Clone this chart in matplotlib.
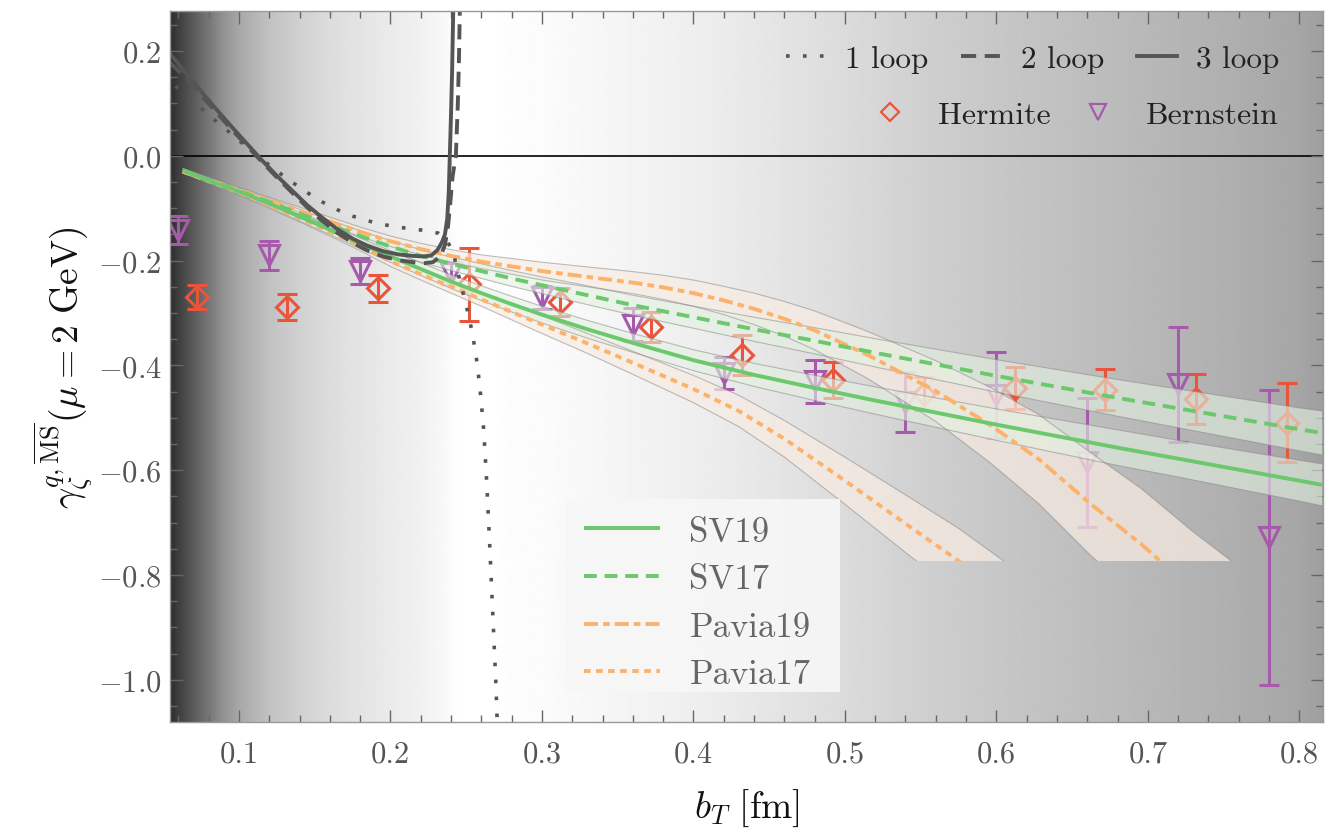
import numpy as np
import matplotlib
matplotlib.use('Agg')
import matplotlib.pyplot as plt
from matplotlib.lines import Line2D
from matplotlib.patches import Rectangle

plt.rcParams['font.family'] = 'serif'
plt.rcParams['font.serif'] = ['cmr10']
plt.rcParams['mathtext.fontset'] = 'cm'
plt.rcParams['axes.formatter.use_mathtext'] = True

# ---------------- data ----------------
bern_x = [0.06, 0.12, 0.18, 0.24, 0.30, 0.36, 0.42, 0.48, 0.54, 0.60, 0.66, 0.72, 0.78]
bern_y = [-0.142, -0.190, -0.220, -0.223, -0.270, -0.322, -0.414, -0.430, -0.470, -0.456, -0.585, -0.436, -0.728]
bern_err = [0.027, 0.027, 0.025, 0.021, 0.022, 0.031, 0.031, 0.041, 0.057, 0.082, 0.123, 0.110, 0.282]

herm_x = [0.072, 0.132, 0.192, 0.252, 0.312, 0.372, 0.432, 0.492, 0.552, 0.612, 0.672, 0.732, 0.792]
herm_y = [-0.269, -0.288, -0.253, -0.245, -0.279, -0.327, -0.380, -0.428, -0.454, -0.443, -0.446, -0.464, -0.509]
herm_err = [0.023, 0.025, 0.026, 0.070, 0.026, 0.029, 0.039, 0.034, 0.032, 0.040, 0.040, 0.047, 0.075]

band_x = [0.063, 0.08, 0.10, 0.12, 0.14, 0.16, 0.18, 0.20, 0.22, 0.24, 0.26, 0.28, 0.30,
          0.33, 0.36, 0.40, 0.44, 0.48, 0.52, 0.56, 0.60, 0.64, 0.68, 0.72, 0.76, 0.80, 0.815]
sv19_y = [-0.028, -0.047, -0.068, -0.091, -0.116, -0.141, -0.167, -0.192, -0.216, -0.240, -0.262, -0.283, -0.303,
          -0.331, -0.357, -0.390, -0.418, -0.443, -0.467, -0.490, -0.513, -0.535, -0.557, -0.578, -0.599, -0.620, -0.628]
sv19_err = [0.004, 0.005, 0.006, 0.007, 0.008, 0.009, 0.010, 0.011, 0.012, 0.013, 0.014, 0.015, 0.016,
            0.017, 0.018, 0.020, 0.022, 0.024, 0.026, 0.028, 0.030, 0.032, 0.034, 0.035, 0.037, 0.039, 0.040]
sv17_y = [-0.028, -0.046, -0.067, -0.088, -0.110, -0.132, -0.153, -0.173, -0.191, -0.206, -0.220, -0.234, -0.247,
          -0.266, -0.285, -0.308, -0.331, -0.353, -0.376, -0.398, -0.420, -0.441, -0.462, -0.482, -0.502, -0.522, -0.529]
sv17_err = [0.004, 0.005, 0.006, 0.007, 0.008, 0.009, 0.010, 0.011, 0.012, 0.013, 0.014, 0.015, 0.016,
            0.018, 0.019, 0.021, 0.023, 0.025, 0.027, 0.029, 0.031, 0.033, 0.035, 0.037, 0.039, 0.041, 0.042]

p19_x = [0.063, 0.08, 0.10, 0.12, 0.14, 0.16, 0.18, 0.20, 0.22, 0.24, 0.26, 0.28, 0.30,
         0.33, 0.36, 0.38, 0.40, 0.42, 0.44, 0.46, 0.48, 0.515, 0.56, 0.596, 0.628, 0.662, 0.696, 0.73, 0.76]
p19_y = [-0.030, -0.046, -0.065, -0.085, -0.105, -0.125, -0.145, -0.163, -0.178, -0.191, -0.202, -0.211, -0.220,
         -0.231, -0.242, -0.251, -0.262, -0.276, -0.292, -0.311, -0.333, -0.380, -0.449, -0.514, -0.579, -0.664,
         -0.742, -0.830, -0.900]
p19_err = [0.003, 0.004, 0.005, 0.006, 0.007, 0.008, 0.009, 0.010, 0.011, 0.012, 0.013, 0.015, 0.017,
           0.019, 0.021, 0.023, 0.025, 0.027, 0.030, 0.033, 0.037, 0.045, 0.058, 0.072, 0.085, 0.098, 0.106,
           0.112, 0.116]

p17_x = [0.063, 0.08, 0.10, 0.12, 0.14, 0.16, 0.18, 0.20, 0.22, 0.24, 0.26, 0.28, 0.30,
         0.33, 0.36, 0.40, 0.43, 0.46, 0.50, 0.54, 0.575, 0.61]
p17_y = [-0.030, -0.048, -0.070, -0.094, -0.119, -0.145, -0.172, -0.201, -0.226, -0.250, -0.274, -0.298, -0.322,
         -0.358, -0.395, -0.445, -0.487, -0.540, -0.620, -0.702, -0.773, -0.850]
p17_err = [0.003, 0.004, 0.005, 0.006, 0.007, 0.008, 0.009, 0.010, 0.011, 0.012, 0.013, 0.015, 0.017,
           0.019, 0.022, 0.026, 0.030, 0.035, 0.045, 0.055, 0.062, 0.066]

loop3_x = [0.0545, 0.065, 0.075, 0.085, 0.095, 0.105, 0.115, 0.125, 0.135, 0.145, 0.155, 0.165, 0.175, 0.185,
           0.195, 0.205, 0.215, 0.222, 0.227, 0.231, 0.234, 0.236, 0.2375, 0.2385, 0.2392, 0.2400, 0.2407,
           0.2414, 0.2418]
loop3_y = [0.195, 0.158, 0.123, 0.089, 0.056, 0.024, -0.008, -0.038, -0.066, -0.094, -0.118, -0.140, -0.158, -0.172,
           -0.182, -0.188, -0.191, -0.192, -0.190, -0.180, -0.165, -0.150, -0.120, -0.070, 0.000, 0.080, 0.160,
           0.268, 0.320]

loop2_x = [0.0545, 0.065, 0.075, 0.085, 0.095, 0.105, 0.115, 0.125, 0.135, 0.145, 0.155, 0.165, 0.175, 0.185,
           0.195, 0.205, 0.215, 0.222, 0.228, 0.233, 0.236, 0.238, 0.2395, 0.241, 0.2432, 0.2445, 0.2452,
           0.2458, 0.2462]
loop2_y = [0.178, 0.148, 0.116, 0.083, 0.051, 0.020, -0.011, -0.041, -0.070, -0.098, -0.124, -0.147, -0.166, -0.181,
           -0.192, -0.199, -0.203, -0.205, -0.203, -0.192, -0.170, -0.135, -0.090, -0.040, 0.000, 0.100, 0.180,
           0.275, 0.320]

loop1_x = [0.058, 0.0655, 0.075, 0.085, 0.095, 0.105, 0.114, 0.125, 0.135, 0.145, 0.155, 0.165, 0.175, 0.185,
           0.195, 0.205, 0.215, 0.225, 0.232, 0.237, 0.2414, 0.246, 0.250, 0.2535, 0.2565, 0.259, 0.2615,
           0.2635, 0.2655, 0.2675, 0.2695, 0.2705]
loop1_y = [0.133, 0.115, 0.091, 0.066, 0.042, 0.017, -0.004, -0.029, -0.050, -0.070, -0.088, -0.103, -0.115, -0.124,
           -0.131, -0.136, -0.140, -0.143, -0.148, -0.160, -0.184, -0.240, -0.285, -0.330, -0.380, -0.440, -0.520,
           -0.620, -0.740, -0.870, -1.000, -1.080]

x_ticks = [0.1, 0.2, 0.3, 0.4, 0.5, 0.6, 0.7, 0.8]
y_ticks = [0.2, 0.0, -0.2, -0.4, -0.6, -0.8, -1.0]

# ---------------- style ----------------
XMIN, XMAX, YMIN, YMAX = 0.0545, 0.8156, -1.08, 0.277
herm_c = '#e8553a'
bern_c = '#a65aab'
green = '#6cc86c'
orange = '#fdb26c'
loop_c = '#555555'

grad_x = [0.0545, 0.06, 0.07, 0.08, 0.09, 0.10, 0.12, 0.14, 0.16, 0.18, 0.20, 0.22, 0.235, 0.245, 0.265,
          0.28, 0.30, 0.35, 0.40, 0.45, 0.50, 0.55, 0.60, 0.65, 0.70, 0.75, 0.80, 0.8156]
grad_v = [0.18, 0.25, 0.36, 0.47, 0.58, 0.66, 0.76, 0.82, 0.865, 0.895, 0.92, 0.945, 0.975, 1.0, 1.0,
          0.99, 0.985, 0.96, 0.935, 0.90, 0.86, 0.815, 0.78, 0.75, 0.72, 0.69, 0.65, 0.62]

fig = plt.figure(figsize=(13.42, 8.37), dpi=100)
ax = fig.add_axes([0.12668, 0.13656, 0.85917, 0.84946])
ax.set_xlim(XMIN, XMAX)
ax.set_ylim(YMIN, YMAX)

# background gradient
gxs = np.linspace(XMIN, XMAX, 800)
gimg = np.interp(gxs, grad_x, grad_v)[None, :]
ax.imshow(gimg, extent=[XMIN, XMAX, YMIN, YMAX], aspect='auto', cmap='gray', vmin=0, vmax=1,
          interpolation='bilinear', zorder=0)

ax.axhline(0, color='black', lw=1.2, zorder=1)

# lattice points
ax.errorbar(bern_x, bern_y, yerr=bern_err, fmt='v', ms=15, mfc='none', mec=bern_c, mew=2.2,
            ecolor=bern_c, elinewidth=2.2, capsize=7.5, capthick=2.2, zorder=2)
ax.errorbar(herm_x, herm_y, yerr=herm_err, fmt='D', ms=11, mfc='none', mec=herm_c, mew=2.2,
            ecolor=herm_c, elinewidth=2.2, capsize=7.5, capthick=2.2, zorder=2)

# bands
clip = Rectangle((0.0, -0.773), 2.0, 3.0, transform=ax.transData, fill=False, visible=False)
ax.add_patch(clip)

def band(x, y, e, fc, alpha, line_kw, clipit=False):
    x = np.array(x); y = np.array(y); e = np.array(e)
    pc = ax.fill_between(x, y - e, y + e, facecolor=fc, alpha=alpha, edgecolor='none', zorder=3)
    e1, = ax.plot(x, y - e, color='#8a8a8a', lw=0.8, alpha=0.55, zorder=3.1)
    e2, = ax.plot(x, y + e, color='#8a8a8a', lw=0.8, alpha=0.55, zorder=3.1)
    ln, = ax.plot(x, y, zorder=4, **line_kw)
    if clipit:
        for a in (pc, e1, e2, ln):
            a.set_clip_path(clip)
    return ln

sv19_kw = dict(color=green, lw=2.8, solid_capstyle='butt')
sv17_kw = dict(color=green, lw=2.8, dashes=(3.3, 2.0))
p19_kw = dict(color=orange, lw=2.8, dashes=(3.6, 1.3, 1.7, 1.3))
p17_kw = dict(color=orange, lw=2.8, dashes=(1.7, 1.4))

band(p17_x, p17_y, p17_err, '#f8ece2', 0.72, p17_kw, clipit=True)
band(p19_x, p19_y, p19_err, '#f8ece2', 0.72, p19_kw, clipit=True)
band(band_x, sv19_y, sv19_err, '#e3f1e1', 0.6, sv19_kw)
band(band_x, sv17_y, sv17_err, '#e3f1e1', 0.6, sv17_kw)

# perturbative loops
ax.plot(loop1_x, loop1_y, color=loop_c, lw=2.6, dashes=(1.0, 3.7), zorder=5)
ax.plot(loop2_x, loop2_y, color=loop_c, lw=2.8, dashes=(3.9, 2.2), zorder=5)
ax.plot(loop3_x, loop3_y, color=loop_c, lw=2.8, zorder=5)

# ticks & labels
ax.set_xticks(x_ticks)
ax.set_yticks(y_ticks)
ax.set_xticklabels([f'{v:.1f}' for v in x_ticks])
ax.set_yticklabels([('$-$' if v < 0 else '') + f'{abs(v):.1f}' for v in y_ticks])
ax.xaxis.set_minor_locator(matplotlib.ticker.MultipleLocator(0.02))
ax.yaxis.set_minor_locator(matplotlib.ticker.MultipleLocator(0.05))
ax.tick_params(which='both', direction='in', top=True, right=True, color='#666666', width=1.0)
ax.tick_params(which='major', length=9)
ax.tick_params(which='minor', length=5)
ax.tick_params(axis='both', labelsize=22, labelcolor='#555555')
ax.tick_params(axis='x', pad=13)
ax.tick_params(axis='y', pad=6)
for s in ax.spines.values():
    s.set_color('#999999')
    s.set_linewidth(1.0)
    s.set_zorder(12)

ax.set_xlabel(r'$b_T\ [\mathrm{fm}]$', fontsize=27, labelpad=14, color='#111111')
ax.set_ylabel(r'$\gamma_\zeta^{q,\overline{\mathrm{MS}}}(\mu = 2\ \mathrm{GeV})$', fontsize=27,
              labelpad=2, color='#111111')

# top legends
loop_h = [Line2D([], [], color=loop_c, lw=2.6, dashes=(1.0, 3.7)),
          Line2D([], [], color=loop_c, lw=2.8, dashes=(3.9, 2.2)),
          Line2D([], [], color=loop_c, lw=2.8)]
leg1 = ax.legend(loop_h, ['1 loop', '2 loop', '3 loop'], ncol=3, loc='center right',
                 bbox_to_anchor=(0.962, 0.932), frameon=False, fontsize=22.5, handlelength=1.3,
                 handletextpad=0.6, columnspacing=1.05, borderpad=0, borderaxespad=0)
for t in leg1.get_texts():
    t.set_color('#222222')
ax.add_artist(leg1)

mk_h = [Line2D([], [], ls='none', marker='D', ms=9, mfc='none', mec=herm_c, mew=1.6),
        Line2D([], [], ls='none', marker='v', ms=12, mfc='none', mec=bern_c, mew=1.6)]
leg2 = ax.legend(mk_h, ['Hermite', 'Bernstein'], ncol=2, loc='center right',
                 bbox_to_anchor=(0.962, 0.853), frameon=False, fontsize=23, handlelength=1.0,
                 handletextpad=1.0, columnspacing=1.0, borderpad=0, borderaxespad=0)
for t in leg2.get_texts():
    t.set_color('#222222')
ax.add_artist(leg2)

# lower legend with box
box = Rectangle((0.3426, 0.0414), 0.2385, 0.2716, transform=ax.transAxes, facecolor='#f7f7f7',
                alpha=0.9, edgecolor='none', zorder=9)
ax.add_patch(box)
fit_h = [Line2D([], [], **sv19_kw), Line2D([], [], **sv17_kw),
         Line2D([], [], **p19_kw), Line2D([], [], **p17_kw)]
leg3 = ax.legend(fit_h, ['SV19', 'SV17', 'Pavia19', 'Pavia17'], loc='upper left',
                 bbox_to_anchor=(0.3426 + 0.004, 0.313 - 0.004), frameon=False, fontsize=25,
                 handlelength=2.2, handletextpad=0.85, labelspacing=0.46, borderpad=0.4,
                 borderaxespad=0)
leg3.set_zorder(10)
for t in leg3.get_texts():
    t.set_color('#666666')

fig.savefig('out.png', dpi=100)
